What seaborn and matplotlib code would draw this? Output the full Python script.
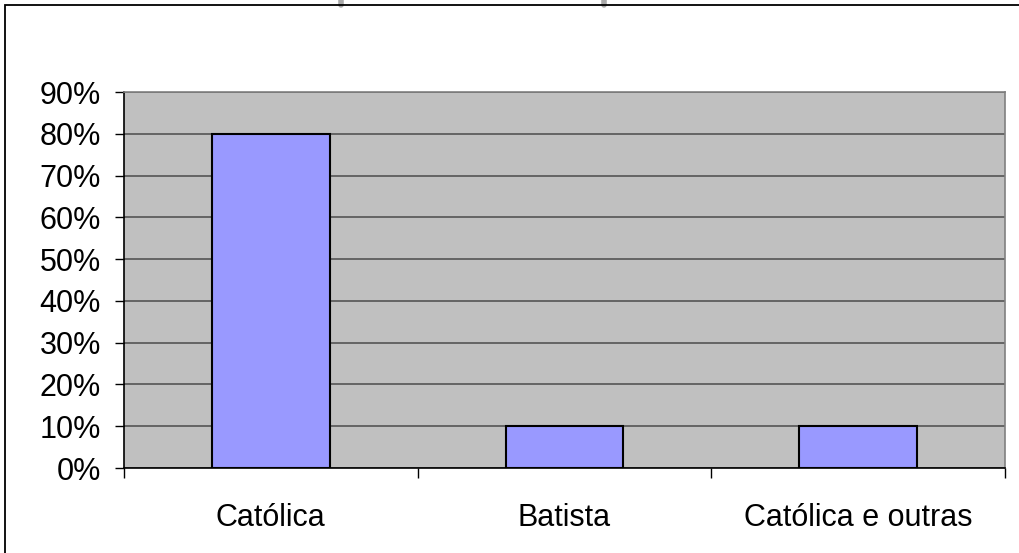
import numpy as np
import pandas as pd
import matplotlib.pyplot as plt
import seaborn as sns
from matplotlib.patches import Rectangle
from matplotlib.lines import Line2D
from matplotlib.ticker import FixedLocator

# Data
categories = ["Católica", "Batista", "Católica e outras"]
shares = [0.80, 0.10, 0.10]
y_ticks = [0.0, 0.1, 0.2, 0.3, 0.4, 0.5, 0.6, 0.7, 0.8, 0.9]

df = pd.DataFrame({"religiao": categories, "percentual": shares})

sns.set_style("white")
plt.rcParams['font.family'] = ['Liberation Sans', 'DejaVu Sans']
plt.rcParams['text.color'] = 'black'
plt.rcParams['xtick.color'] = 'black'
plt.rcParams['ytick.color'] = 'black'
plt.rcParams['xtick.labelcolor'] = 'black'
plt.rcParams['ytick.labelcolor'] = 'black'
plt.rcParams['font.size'] = 22

fig = plt.figure(figsize=(10.2, 5.53), dpi=100)
fig.patch.set_facecolor("white")
W, H = 1020, 553
ax = fig.add_axes([124 / W, 1 - 468 / H, (1005 - 124) / W, (468 - 92) / H])
ax.set_facecolor("#C0C0C0")

sns.barplot(data=df, x="religiao", y="percentual", color="#9999FF",
            saturation=1, width=0.4, edgecolor="black", linewidth=1.5,
            ax=ax, zorder=3)

ax.set_yticks(y_ticks)
ax.set_yticklabels([f"{v:.0%}" for v in y_ticks], fontsize=22)
ax.set_xticks(range(len(categories)))
ax.set_xticklabels(categories, fontsize=22)
ax.set_ylim(0, 0.9)
ax.set_xlim(-0.5, 2.5)
ax.grid(axis="y", color="#555555", linewidth=1.2, zorder=1)
ax.set_axisbelow(True)

ax.set_xlabel("")
ax.set_ylabel("")
ax.tick_params(axis="y", direction="out", length=6.5, width=1, color="black",
               pad=10, left=True)
ax.tick_params(axis="x", which="major", length=0, pad=25)
ax.xaxis.set_minor_locator(FixedLocator([-0.5, 0.5, 1.5, 2.5]))
ax.tick_params(axis="x", which="minor", direction="out", length=7.5,
               width=1, color="black", bottom=True)

for side in ["left", "bottom"]:
    ax.spines[side].set_color("black")
    ax.spines[side].set_linewidth(1.2)
for side in ["top", "right"]:
    ax.spines[side].set_color("#808080")
    ax.spines[side].set_linewidth(1.2)

# outer frame of the chart object
fig.patches.append(Rectangle((5 / W, -0.1), 1.2, 1.1 - 5 / H,
                             transform=fig.transFigure, fill=False,
                             edgecolor="black", linewidth=1.3, zorder=5))
# faint cut-off box at the top
for xp in [341, 604]:
    fig.lines.append(Line2D([xp / W, xp / W], [1 - 5 / H, 1.0],
                            transform=fig.transFigure, color="#AAAAAA",
                            linewidth=4))

fig.savefig("out.png", dpi=100)
